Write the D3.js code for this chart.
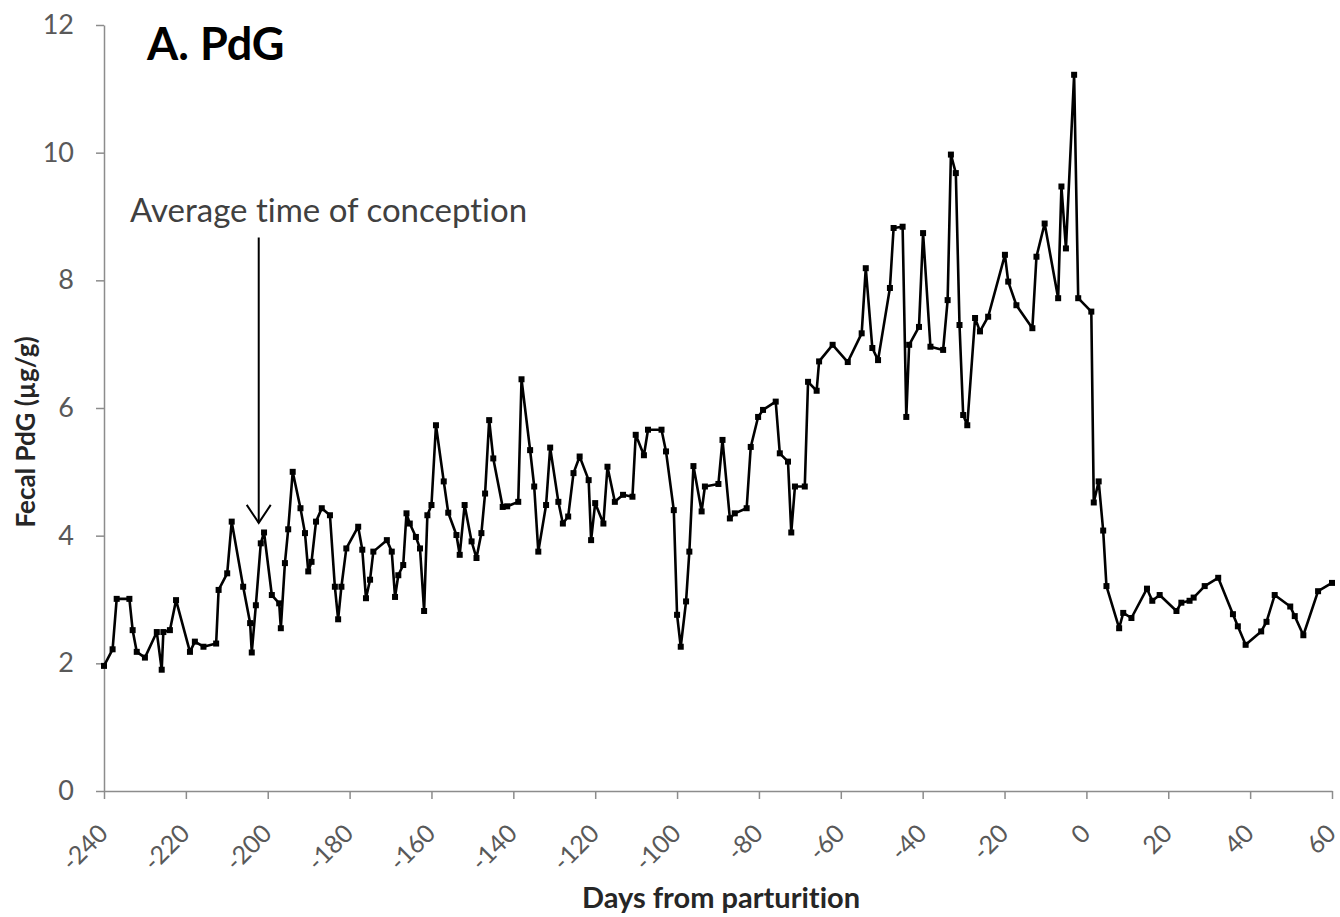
<!DOCTYPE html>
<html>
<head>
<meta charset="utf-8">
<script src="https://cdn.jsdelivr.net/npm/d3@7"></script>
<style>
  html, body { margin: 0; padding: 0; background: #fff; }
  svg { display: block; }
  text { font-variant-ligatures: none; font-feature-settings: "liga" 0, "clig" 0; }
</style>
</head>
<body>
<svg id="chart" width="1340" height="917"></svg>
<script>
// ---- Data ----
const days = [
  -240, -237.9, -236.9, -233.8, -233, -232, -230, -227.1, -225.9, -225.5,
  -223.9, -222.4, -219, -217.8, -215.7, -212.6, -212, -209.9, -208.8, -206,
  -204.3, -203.9, -202.9, -201.7, -200.9, -199, -197.2, -196.8, -195.8, -195,
  -193.9, -192, -190.9, -190.1, -189.3, -188.2, -186.8, -184.8, -183.6, -182.8,
  -182, -180.8, -177.9, -176.9, -176, -175, -174.2, -170.9, -169.7, -168.9,
  -168.1, -166.9, -166.1, -165.3, -163.8, -162.8, -161.8, -161, -160, -158.9,
  -157, -155.9, -153.9, -153.1, -151.9, -150.2, -149, -147.8, -146.9, -145.9,
  -144.9, -142.6, -141.5, -138.8, -138, -135.9, -134.9, -133.9, -132, -131,
  -129, -127.9, -126.6, -125.3, -123.8, -121.6, -121, -120, -118, -117,
  -115.2, -113.2, -110.9, -110.1, -108.1, -107.1, -103.8, -102.7, -100.8, -100,
  -99.1, -97.8, -97, -96, -94, -93.2, -89.9, -88.9, -87.1, -85.9,
  -83, -82, -80.2, -79, -75.9, -74.9, -72.9, -72.1, -71.2, -68.8,
  -68, -65.9, -65.3, -62, -58.3, -54.9, -53.9, -52.3, -50.9, -48,
  -47.1, -44.9, -44, -43.3, -40.9, -39.9, -38.1, -35, -33.9, -33.1,
  -31.9, -31, -30.1, -29.1, -27.2, -26, -24, -19.9, -19.1, -17.1,
  -13.2, -12.2, -10.2, -6.9, -6.1, -5, -3, -2, 1.2, 1.8,
  3.0, 4.1, 4.9, 8, 9, 11, 14.8, 16.1, 17.9, 22,
  23.2, 25.2, 26.2, 28.9, 32.2, 35.8, 37, 38.9, 42.7, 44,
  46, 49.8, 50.9, 53, 56.6, 60
];
const pdg = [
  1.96, 2.22, 3.01, 3.01, 2.52, 2.18, 2.09, 2.49, 1.90, 2.49,
  2.52, 2.99, 2.18, 2.34, 2.26, 2.31, 3.15, 3.41, 4.22, 3.20,
  2.63, 2.17, 2.91, 3.88, 4.05, 3.07, 2.94, 2.55, 3.57, 4.10,
  5.00, 4.43, 4.04, 3.44, 3.59, 4.22, 4.43, 4.32, 3.20, 2.69,
  3.20, 3.80, 4.14, 3.78, 3.02, 3.31, 3.75, 3.93, 3.75, 3.04,
  3.38, 3.54, 4.35, 4.19, 3.98, 3.80, 2.82, 4.32, 4.48, 5.73,
  4.85, 4.36, 4.01, 3.70, 4.48, 3.91, 3.65, 4.04, 4.66, 5.81,
  5.21, 4.45, 4.46, 4.53, 6.45, 5.34, 4.77, 3.75, 4.48, 5.38,
  4.53, 4.19, 4.30, 4.98, 5.24, 4.87, 3.93, 4.51, 4.19, 5.08,
  4.53, 4.64, 4.61, 5.58, 5.26, 5.66, 5.66, 5.32, 4.40, 2.76,
  2.26, 2.97, 3.75, 5.09, 4.38, 4.77, 4.81, 5.50, 4.27, 4.35,
  4.43, 5.39, 5.86, 5.97, 6.10, 5.29, 5.16, 4.05, 4.77, 4.77,
  6.41, 6.27, 6.73, 6.99, 6.72, 7.17, 8.19, 6.94, 6.75, 7.88,
  8.82, 8.84, 5.86, 6.99, 7.27, 8.74, 6.96, 6.91, 7.69, 9.97,
  9.68, 7.30, 5.89, 5.73, 7.41, 7.20, 7.43, 8.40, 7.98, 7.61,
  7.25, 8.37, 8.89, 7.72, 9.47, 8.50, 11.22, 7.72, 7.51, 4.52,
  4.85, 4.08, 3.21, 2.55, 2.79, 2.71, 3.17, 2.98, 3.07, 2.82,
  2.95, 2.98, 3.03, 3.21, 3.34, 2.77, 2.58, 2.29, 2.50, 2.65,
  3.07, 2.89, 2.74, 2.44, 3.13, 3.26
];
const xTicks = [-240, -220, -200, -180, -160, -140, -120, -100, -80, -60, -40, -20, 0, 20, 40, 60];
const yTicks = [0, 2, 4, 6, 8, 10, 12];
const titleText = "A. PdG";
const xLabel = "Days from parturition";
const yLabel = "Fecal PdG (µg/g)";
const annotationText = "Average time of conception";
const annotationDay = -202.2;
const annotationTop = 8.67;
const annotationTip = 4.2;

// ---- Chart ----
const svg = d3.select("#chart");
const FONT = "Lato, 'Open Sans', sans-serif";
const x = d3.scaleLinear().domain([-240, 60]).range([104, 1332]);
const y = d3.scaleLinear().domain([0, 12]).range([791, 25]);
const axisColor = "#8c8c8c";
const tickText = "#595959";

// Y axis
const yAxis = svg.append("g")
  .attr("transform", `translate(${x(-240)},0)`)
  .call(d3.axisLeft(y).tickValues(yTicks).tickSize(8).tickPadding(22).tickSizeOuter(0));
yAxis.select(".domain").attr("stroke", axisColor).attr("stroke-width", 1.5);
yAxis.selectAll(".tick line").attr("stroke", axisColor).attr("stroke-width", 1.5);
yAxis.selectAll(".tick text")
  .attr("font-family", FONT).attr("font-size", 27).attr("fill", tickText);

// X axis
const xAxis = svg.append("g")
  .attr("transform", `translate(0,${y(0)})`)
  .call(d3.axisBottom(x).tickValues(xTicks).tickFormat(d => String(d)).tickSize(8).tickSizeOuter(0));
xAxis.select(".domain").attr("stroke", axisColor).attr("stroke-width", 1.5);
xAxis.selectAll(".tick line").attr("stroke", axisColor).attr("stroke-width", 1.5);
xAxis.selectAll(".tick text")
  .attr("font-family", FONT).attr("font-size", 25).attr("fill", tickText)
  .attr("text-anchor", "end")
  .attr("dy", null).attr("y", null)
  .attr("transform", "translate(5,44) rotate(-45)");

// Line
const pts = days.map((d, i) => [d, pdg[i]]);
const line = d3.line().x(d => x(d[0])).y(d => y(d[1]));
svg.append("path")
  .datum(pts)
  .attr("fill", "none")
  .attr("stroke", "#000")
  .attr("stroke-width", 2.6)
  .attr("stroke-linejoin", "round")
  .attr("d", line);

// Markers
svg.append("g").selectAll("rect")
  .data(pts)
  .join("rect")
  .attr("x", d => x(d[0]) - 3)
  .attr("y", d => y(d[1]) - 3)
  .attr("width", 6).attr("height", 6)
  .attr("fill", "#000");

// Title
svg.append("text")
  .attr("x", 147).attr("y", 60)
  .attr("font-family", FONT).attr("font-weight", "bold").attr("font-size", 45)
  .attr("fill", "#000")
  .text(titleText);

// Annotation
svg.append("text")
  .attr("x", 130).attr("y", 222)
  .attr("font-family", FONT).attr("font-size", 33)
  .attr("fill", "#404040")
  .text(annotationText);
const ax = x(annotationDay);
svg.append("line")
  .attr("x1", ax).attr("x2", ax)
  .attr("y1", y(annotationTop)).attr("y2", y(annotationTip))
  .attr("stroke", "#000").attr("stroke-width", 2);
svg.append("path")
  .attr("d", `M${ax - 12},${y(annotationTip) - 18} L${ax},${y(annotationTip)} L${ax + 12},${y(annotationTip) - 18}`)
  .attr("fill", "none").attr("stroke", "#000").attr("stroke-width", 2);

// Axis labels
svg.append("text")
  .attr("x", 721).attr("y", 908)
  .attr("text-anchor", "middle")
  .attr("font-family", FONT).attr("font-weight", "bold").attr("font-size", 29)
  .attr("fill", "#262626")
  .text(xLabel);
svg.append("text")
  .attr("transform", "translate(35,432) rotate(-90)")
  .attr("text-anchor", "middle")
  .attr("font-family", FONT).attr("font-weight", "bold").attr("font-size", 26)
  .attr("fill", "#262626")
  .text(yLabel);
</script>
</body>
</html>
